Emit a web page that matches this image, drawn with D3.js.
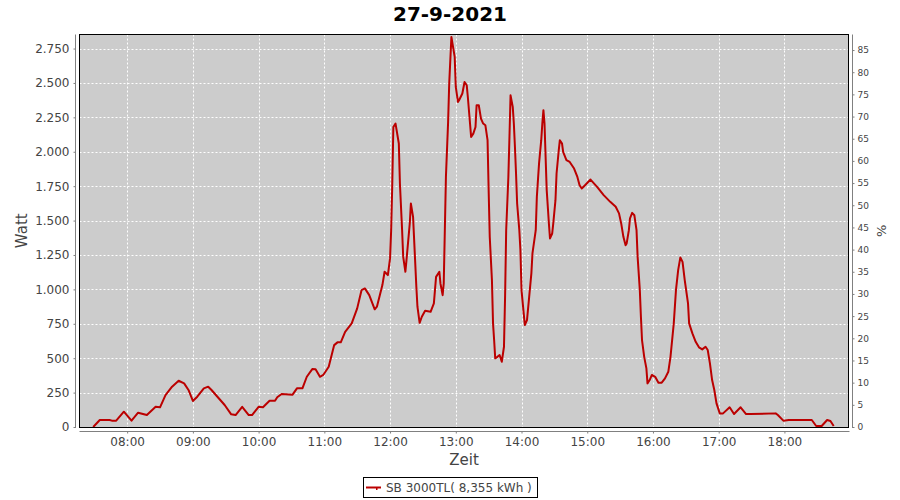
<!DOCTYPE html>
<html><head><meta charset="utf-8">
<script src="https://cdnjs.cloudflare.com/ajax/libs/d3/7.8.5/d3.min.js"></script>
<style>body{margin:0;background:#fff}svg{display:block;font-family:"DejaVu Sans",sans-serif}</style>
</head><body><svg id="c" width="900" height="500"></svg>
<script>
const title = "27-9-2021";
const legendLabel = "SB 3000TL( 8,355 kWh )";
const times = ["07:29","07:35","07:44","07:46","07:50","07:57","08:04","08:10","08:18","08:26","08:30","08:35","08:41","08:47","08:52","08:56","09:00","09:04","09:10","09:14","09:17","09:25","09:29","09:35","09:39","09:45","09:51","09:54","10:00","10:04","10:10","10:15","10:17","10:21","10:31","10:35","10:40","10:44","10:49","10:52","10:56","10:59","11:04","11:09","11:12","11:15","11:19","11:25","11:30","11:34","11:37","11:41","11:46","11:48","11:53","11:55","11:58","12:00","12:01","12:02","12:03","12:05","12:08","12:09","12:11","12:12","12:14","12:15","12:18","12:19","12:21","12:22","12:24","12:25","12:27","12:29","12:32","12:37","12:40","12:42","12:45","12:46","12:48","12:49","12:51","12:53","12:54","12:56","12:57","12:59","13:00","13:02","13:03","13:06","13:08","13:10","13:11","13:13","13:14","13:16","13:18","13:19","13:21","13:23","13:25","13:27","13:29","13:30","13:31","13:33","13:34","13:35","13:36","13:38","13:40","13:42","13:44","13:45","13:46","13:48","13:49","13:50","13:52","13:53","13:54","13:55","13:56","13:58","13:59","14:00","14:02","14:03","14:05","14:07","14:09","14:10","14:13","14:14","14:16","14:18","14:19","14:20","14:21","14:22","14:23","14:25","14:26","14:28","14:29","14:31","14:32","14:34","14:35","14:37","14:38","14:41","14:44","14:48","14:51","14:53","14:55","14:58","15:03","15:09","15:15","15:21","15:26","15:29","15:31","15:33","15:35","15:36","15:38","15:39","15:41","15:43","15:45","15:46","15:48","15:49","15:50","15:52","15:54","15:55","15:57","15:59","16:02","16:05","16:08","16:11","16:14","16:16","16:19","16:21","16:23","16:25","16:27","16:29","16:32","16:33","16:36","16:39","16:42","16:45","16:48","16:50","16:52","16:54","16:56","16:58","17:01","17:04","17:10","17:14","17:20","17:25","17:29","17:52","17:54","17:59","18:04","18:25","18:29","18:34","18:39","18:42","18:45"];
const watts = [0,51,51,46,46,111,46,104,87,147,143,232,293,336,317,269,189,220,281,293,269,196,160,92,87,147,87,87,147,143,191,191,216,240,235,281,281,365,421,419,365,378,438,595,615,615,692,753,862,995,1007,958,855,874,1031,1128,1104,1225,1430,1757,2180,2205,2060,1770,1430,1236,1128,1213,1479,1624,1527,1358,1019,874,757,801,845,837,898,1091,1128,1043,958,1043,1817,2217,2495,2834,2786,2689,2471,2362,2374,2423,2507,2483,2398,2205,2108,2132,2180,2338,2338,2241,2205,2193,2084,1721,1382,1067,753,632,499,510,523,474,583,946,1430,1817,2108,2410,2326,2205,2035,1842,1624,1430,1285,995,826,741,777,946,1116,1261,1430,1672,1914,2084,2205,2302,2205,1962,1721,1479,1370,1406,1479,1648,1842,2011,2084,2059,1999,1939,1926,1878,1817,1757,1733,1757,1798,1745,1685,1636,1600,1552,1479,1382,1321,1334,1430,1515,1556,1539,1430,1236,995,801,632,510,426,317,341,378,365,322,322,353,401,510,753,995,1140,1232,1200,1067,898,753,680,619,579,564,583,559,462,341,269,172,99,99,143,94,143,94,94,99,87,46,51,51,7,7,51,44,7];
const xTicks = ["08:00","09:00","10:00","11:00","12:00","13:00","14:00","15:00","16:00","17:00","18:00"];
const wattTicks = [0,250,500,750,1000,1250,1500,1750,2000,2250,2500,2750];
const pctTicks = [0,5,10,15,20,25,30,35,40,45,50,55,60,65,70,75,80,85];
const xDomain = ["07:16:30","18:58:30"];
const wattMax = 2852, pctMax = 88.5;

const parse = d3.timeParse("%Y-%m-%d %H:%M");
const parseS = d3.timeParse("%Y-%m-%d %H:%M:%S");
const day = "2021-09-27 ";
const data = times.map((t,i)=>({t:parse(day+t), w:watts[i]}));

const L=79.5, R=848.5, T=34.5, B=427;
const svg = d3.select("#c");
const x = d3.scaleTime().domain(xDomain.map(s=>parseS(day+s))).range([L,R]);
const y = d3.scaleLinear().domain([0,wattMax]).range([B,T]);
const y2 = d3.scaleLinear().domain([0,pctMax]).range([B,T]);
const fmtDE = d3.formatLocale({decimal:",",thousands:".",grouping:[3],currency:["","€"]}).format(",d");

svg.append("rect").attr("x",L).attr("y",T).attr("width",R-L).attr("height",B-T).attr("fill","#cccccc");
// grid
svg.append("g").selectAll("line").data(wattTicks).join("line")
  .attr("x1",L).attr("x2",R).attr("y1",d=>Math.round(y(d))+0.5).attr("y2",d=>Math.round(y(d))+0.5)
  .attr("stroke","#fff").attr("stroke-dasharray","2,2");
svg.append("g").selectAll("line").data(xTicks).join("line")
  .attr("x1",d=>Math.round(x(parse(day+d)))+0.5).attr("x2",d=>Math.round(x(parse(day+d)))+0.5).attr("y1",T).attr("y2",B)
  .attr("stroke","#fff").attr("stroke-dasharray","2,2");
// line
svg.append("path").datum(data).attr("fill","none").attr("stroke","#bb0000").attr("stroke-width",2)
  .attr("stroke-linejoin","round")
  .attr("d",d3.line().x(d=>x(d.t)).y(d=>y(d.w)));
svg.append("rect").attr("x",L).attr("y",T).attr("width",R-L).attr("height",B-T+0.5).attr("fill","none").attr("stroke","#000");

// axes
const gl = svg.append("g").attr("transform","translate(75.5,0)")
  .call(d3.axisLeft(y).tickValues(wattTicks).tickSize(2).tickPadding(4).tickFormat(fmtDE));
const gb = svg.append("g").attr("transform","translate(0,431.5)")
  .call(d3.axisBottom(x).tickValues(xTicks.map(d=>parse(day+d))).tickSize(2).tickPadding(4).tickFormat(d3.timeFormat("%H:%M")));
const gr = svg.append("g").attr("transform","translate(852.5,0)")
  .call(d3.axisRight(y2).tickValues(pctTicks).tickSize(2).tickPadding(3));
gl.select(".domain").attr("d",`M0,${T}V${B+1}`);
gb.select(".domain").attr("d",`M${L},0H${R+1}`);
gr.select(".domain").attr("d",`M0,${T}V${B+1}`);
[gl,gb,gr].forEach(g=>{
  g.selectAll(".domain,.tick line").attr("stroke","#808080");
  g.selectAll("text").attr("fill","#444").attr("font-family","DejaVu Sans").attr("font-size",12);
});
gr.selectAll("text").attr("font-size",9);

svg.append("text").attr("x",450).attr("y",21).attr("text-anchor","middle")
  .attr("font-size",20).attr("font-weight","bold").attr("fill","#000").text(title);
svg.append("text").attr("x",(L+R)/2).attr("y",465).attr("text-anchor","middle")
  .attr("font-size",15).attr("fill","#444").text("Zeit");
svg.append("text").attr("transform",`translate(27,${(T+B)/2}) rotate(-90)`).attr("text-anchor","middle")
  .attr("font-size",15).attr("fill","#444").text("Watt");
svg.append("text").attr("transform",`translate(886,${(T+B)/2}) rotate(-90)`).attr("text-anchor","middle")
  .attr("font-size",13).attr("fill","#444").text("%");

// legend
const lg = svg.append("g");
lg.append("rect").attr("x",363.5).attr("y",477.5).attr("width",174).attr("height",20).attr("fill","#fff").attr("stroke","#000");
lg.append("line").attr("x1",366).attr("x2",381).attr("y1",487.5).attr("y2",487.5).attr("stroke","#bb0000").attr("stroke-width",2);
lg.append("rect").attr("x",376).attr("y",488).attr("width",1.5).attr("height",2).attr("fill","#bb0000");
lg.append("text").attr("x",386).attr("y",492).attr("font-size",12).attr("fill","#444").text(legendLabel);
</script></body></html>
